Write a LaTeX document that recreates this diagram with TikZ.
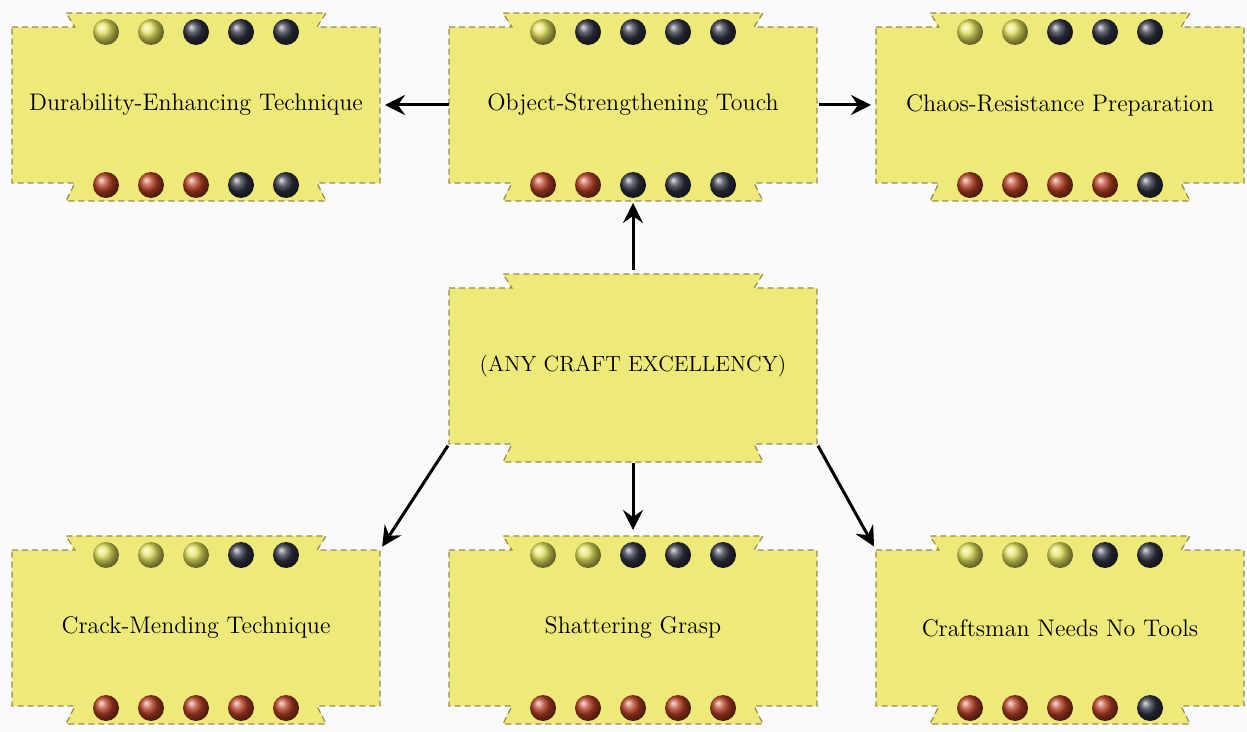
\documentclass[tikz,border=0pt]{standalone}
\usetikzlibrary{arrows.meta}
\definecolor{paper}{RGB}{250,250,248}
\definecolor{cardfill}{RGB}{238,234,122}
\definecolor{cardedge}{RGB}{150,138,88}
\definecolor{pegY}{RGB}{228,226,92}
\definecolor{pegB}{RGB}{48,50,64}
\definecolor{pegR}{RGB}{182,62,34}
\tikzset{
  card/.style={rectangle, fill=cardfill, minimum width=184pt, minimum height=78pt,
    inner sep=0pt, outer sep=0pt, font=\fontsize{12}{14}\selectfont},
  cardline/.style={cardedge, line width=0.6pt, densely dashed},
  link/.style={line width=1.5pt, -{Stealth[length=10pt,width=10pt,inset=3.5pt]}}
}
% tabs and rim of a card
\newcommand{\cardrim}[1]{%
\fill[cardfill] ([shift={(-121,2)}]#1.north) -- ([shift={(-130,-14)}]#1.north) -- ([shift={(130,-14)}]#1.north) -- ([shift={(121,2)}]#1.north) -- cycle;
\fill[cardfill] ([shift={(-121,-2)}]#1.south) -- ([shift={(-130,18)}]#1.south) -- ([shift={(130,18)}]#1.south) -- ([shift={(121,-2)}]#1.south) -- cycle;
\draw[cardline] (#1.north west) -- ([shift={(-121,0)}]#1.north) -- ([shift={(-130,-14)}]#1.north) -- ([shift={(130,-14)}]#1.north) -- ([shift={(121,0)}]#1.north) -- (#1.north east) -- (#1.south east) -- ([shift={(121,0)}]#1.south) -- ([shift={(130,18)}]#1.south) -- ([shift={(-130,18)}]#1.south) -- ([shift={(-121,0)}]#1.south) -- (#1.south west) -- cycle;}
% five pegs: node, anchor, offset, colours
\newcommand{\pegrow}[8]{%
\shade[ball color=#4] ([shift={(-90,#3)}]#1.#2) circle (6.5pt);
\shade[ball color=#5] ([shift={(-45,#3)}]#1.#2) circle (6.5pt);
\shade[ball color=#6] ([shift={(0,#3)}]#1.#2) circle (6.5pt);
\shade[ball color=#7] ([shift={(45,#3)}]#1.#2) circle (6.5pt);
\shade[ball color=#8] ([shift={(90,#3)}]#1.#2) circle (6.5pt);}

\begin{document}
\begin{tikzpicture}[x=0.5pt,y=-0.5pt]
\useasboundingbox (0,0) rectangle (1247,732);
\fill[paper] (0,0) rectangle (1247,732);

\node[card] (durab) at (196,105) {Durability-Enhancing Technique};
\node[card] (strength) at (633,105) {Object-Strengthening Touch};
\node[card] (chaos) at (1060,105) {Chaos-Resistance Preparation};
\node[card, font=\fontsize{11}{13}\selectfont] (anycraft) at (633,366) {(ANY CRAFT EXCELLENCY)};
\node[card] (mending) at (196,628) {Crack-Mending Technique};
\node[card] (grasp) at (633,628) {Shattering Grasp};
\node[card] (notools) at (1060,628) {Craftsman Needs No Tools};

\cardrim{durab}
\cardrim{strength}
\cardrim{chaos}
\cardrim{anycraft}
\cardrim{mending}
\cardrim{grasp}
\cardrim{notools}

\pegrow{durab}{north}{5}{pegY}{pegY}{pegB}{pegB}{pegB}
\pegrow{durab}{south}{2}{pegR}{pegR}{pegR}{pegB}{pegB}
\pegrow{strength}{north}{5}{pegY}{pegB}{pegB}{pegB}{pegB}
\pegrow{strength}{south}{2}{pegR}{pegR}{pegB}{pegB}{pegB}
\pegrow{chaos}{north}{5}{pegY}{pegY}{pegB}{pegB}{pegB}
\pegrow{chaos}{south}{2}{pegR}{pegR}{pegR}{pegR}{pegB}
\pegrow{mending}{north}{5}{pegY}{pegY}{pegY}{pegB}{pegB}
\pegrow{mending}{south}{2}{pegR}{pegR}{pegR}{pegR}{pegR}
\pegrow{grasp}{north}{5}{pegY}{pegY}{pegB}{pegB}{pegB}
\pegrow{grasp}{south}{2}{pegR}{pegR}{pegR}{pegR}{pegR}
\pegrow{notools}{north}{5}{pegY}{pegY}{pegY}{pegB}{pegB}
\pegrow{notools}{south}{2}{pegR}{pegR}{pegR}{pegR}{pegB}

\draw[link, shorten >=2.5pt] (strength.west) -- (durab.east);
\draw[link, shorten >=2.5pt, shorten <=1pt] (strength.east) -- (chaos.west);
\draw[link, shorten <=9pt, shorten >=10pt] (anycraft.north) -- (strength.south);
\draw[link, shorten <=1pt, shorten >=2pt] (anycraft.south west) -- (mending.north east);
\draw[link, shorten <=9.5pt, shorten >=10pt] (anycraft.south) -- (grasp.north);
\draw[link, shorten <=1pt, shorten >=2pt] (anycraft.south east) -- (notools.north west);
\end{tikzpicture}
\end{document}
